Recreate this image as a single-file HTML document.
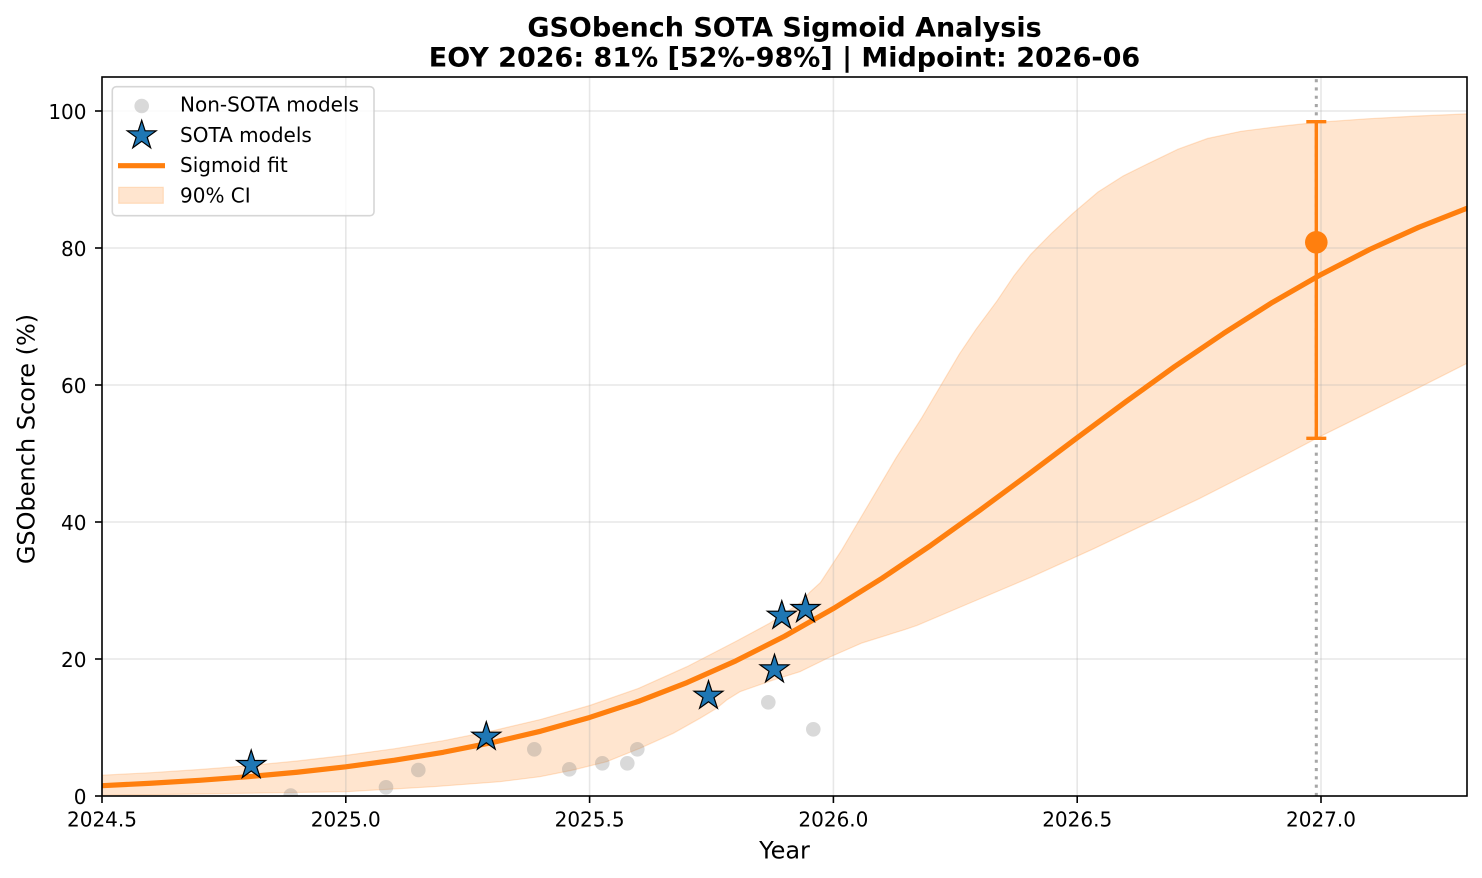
<!DOCTYPE html>
<html>
<head>
<meta charset="utf-8">
<style>
  html, body { margin: 0; padding: 0; background: #ffffff; }
  svg { display: block; }
  text { font-family: "DejaVu Sans", "Liberation Sans", sans-serif; fill: #000; }
</style>
</head>
<body>
<svg width="1482" height="878" viewBox="0 0 1482 878" xmlns="http://www.w3.org/2000/svg">
  <defs>
    <clipPath id="plot">
      <rect x="102" y="77" width="1365" height="719"/>
    </clipPath>
    <polygon id="star" points="0,-15.2 3.413,-4.697 14.456,-4.697 5.522,1.794 8.934,12.297 0,5.806 -8.934,12.297 -5.522,1.794 -14.456,-4.697 -3.413,-4.697" fill="#1f77b4" stroke="#000" stroke-width="1.2" stroke-linejoin="miter"/>
  </defs>

  <rect x="0" y="0" width="1482" height="878" fill="#ffffff"/>

  <!-- Title -->
  <text x="784.5" y="36.7" text-anchor="middle" font-size="27" font-weight="bold">GSObench SOTA Sigmoid Analysis</text>
  <text x="784.5" y="66.7" text-anchor="middle" font-size="27" font-weight="bold">EOY 2026: 81% [52%-98%] | Midpoint: 2026-06</text>

  <g clip-path="url(#plot)">
    <!-- CI band -->
    <path d="M102,775.2 L150.8,772.7 199.5,769.5 248.3,765.7 297,761 345.8,755.4 394.6,748.7 443.3,740.7 492.1,730.9 540.8,719.4 589.6,705.5 638.4,688.4 687.1,666.6 735.9,641.4 770,623 785,613 800,603 810,592 820.4,582.6 841.4,550.5 858.2,522 875.1,493.4 896.1,457.8 921.3,418.5 942.4,382.8 959.2,354.3 976,329.3 997.1,300.8 1013.9,275.8 1030.7,254.4 1051.8,233 1072.8,213.4 1098,192 1123.3,175.9 1148.5,163.4 1178,149.2 1207.4,138.5 1241.1,131.3 1283.1,126 1316.8,122.4 1367.3,118.8 1417.8,116 1467.3,113.9 L1467.3,363.2 1417.8,388.2 1367.3,413.2 1316.8,438.2 1283.1,456 1241.1,477.4 1199,498.8 1148.5,522.7 1093.8,548.7 1030.7,577.3 967.6,604 917.1,625.4 904.5,629.7 862,643 830,657 800,671.7 773.3,680 746.7,689.3 740,691.7 726.7,700 716.7,708.3 700,718.3 673.3,733.3 640,748.3 606.7,761.7 573.3,770 540,776.7 500,781.7 433.3,786.7 346.7,791.7 200,794 102,795.3 Z"
      fill="#ff7f0e" fill-opacity="0.2" stroke="#ff7f0e" stroke-opacity="0.2" stroke-width="1.2"/>

    <!-- Grid -->
    <g stroke="#b0b0b0" stroke-opacity="0.3" stroke-width="1.6">
      <line x1="345.8" y1="77" x2="345.8" y2="796"/>
      <line x1="589.6" y1="77" x2="589.6" y2="796"/>
      <line x1="833.4" y1="77" x2="833.4" y2="796"/>
      <line x1="1077.2" y1="77" x2="1077.2" y2="796"/>
      <line x1="1321" y1="77" x2="1321" y2="796"/>
      <line x1="102" y1="659" x2="1467" y2="659"/>
      <line x1="102" y1="522" x2="1467" y2="522"/>
      <line x1="102" y1="385" x2="1467" y2="385"/>
      <line x1="102" y1="248" x2="1467" y2="248"/>
      <line x1="102" y1="111" x2="1467" y2="111"/>
    </g>

    <!-- Non-SOTA models -->
    <g fill="#808080" fill-opacity="0.3">
      <circle cx="290.7" cy="795.5" r="7.3"/>
      <circle cx="386" cy="787.3" r="7.3"/>
      <circle cx="418.3" cy="770" r="7.3"/>
      <circle cx="534.3" cy="749.3" r="7.3"/>
      <circle cx="569.3" cy="769.3" r="7.3"/>
      <circle cx="602.3" cy="763.3" r="7.3"/>
      <circle cx="627.3" cy="763.3" r="7.3"/>
      <circle cx="637.3" cy="749.3" r="7.3"/>
      <circle cx="768.3" cy="702.3" r="7.3"/>
      <circle cx="813.3" cy="729.3" r="7.3"/>
    </g>

    <!-- Sigmoid fit -->
    <path d="M102,785.68 L150.76,783.28 199.52,780.31 248.28,776.67 297.04,772.24 345.8,766.81 394.56,760.23 443.32,752.26 492.08,742.61 540.84,731.16 589.6,717.46 638.36,701.4 687.12,682.56 735.88,660.85 784.64,636.19 833.4,608.52 882.16,578.17 930.92,545.29 979.68,510.35 1028.44,474.39 1077.2,437.75 1125.96,401.65 1174.72,366.51 1223.48,333.49 1272.24,302.46 1321,274.51 1369.76,249.44 1418.52,227.38 1467.28,208.13"
      fill="none" stroke="#ff7f0e" stroke-width="5.2" stroke-linejoin="round"/>

    <!-- EOY dotted line -->
    <line x1="1316.3" y1="796" x2="1316.3" y2="77" stroke="#808080" stroke-opacity="0.7" stroke-width="3" stroke-dasharray="3.1 5.2"/>

    <!-- Error bar -->
    <g stroke="#ff7f0e" stroke-width="3.4">
      <line x1="1316.3" y1="121.7" x2="1316.3" y2="438.3"/>
      <line x1="1306.3" y1="121.7" x2="1326.3" y2="121.7"/>
      <line x1="1306.3" y1="438.3" x2="1326.3" y2="438.3"/>
    </g>
    <circle cx="1316.3" cy="242.3" r="11.3" fill="#ff7f0e"/>

    <!-- SOTA stars -->
    <use href="#star" x="251.2" y="765.2"/>
    <use href="#star" x="486.3" y="736.9"/>
    <use href="#star" x="708.5" y="695.9"/>
    <use href="#star" x="774.5" y="669.5"/>
    <use href="#star" x="781.8" y="615.9"/>
    <use href="#star" x="805.5" y="609.2"/>
  </g>

  <!-- Spines -->
  <rect x="102" y="77" width="1365" height="719" fill="none" stroke="#000" stroke-width="1.6"/>

  <!-- X ticks -->
  <g stroke="#000" stroke-width="1.6">
    <line x1="102" y1="796" x2="102" y2="803"/>
    <line x1="345.8" y1="796" x2="345.8" y2="803"/>
    <line x1="589.6" y1="796" x2="589.6" y2="803"/>
    <line x1="833.4" y1="796" x2="833.4" y2="803"/>
    <line x1="1077.2" y1="796" x2="1077.2" y2="803"/>
    <line x1="1321" y1="796" x2="1321" y2="803"/>
    <line x1="95" y1="796" x2="102" y2="796"/>
    <line x1="95" y1="659" x2="102" y2="659"/>
    <line x1="95" y1="522" x2="102" y2="522"/>
    <line x1="95" y1="385" x2="102" y2="385"/>
    <line x1="95" y1="248" x2="102" y2="248"/>
    <line x1="95" y1="111" x2="102" y2="111"/>
  </g>
  <g font-size="20" text-anchor="middle">
    <text x="102" y="826.7">2024.5</text>
    <text x="345.8" y="826.7">2025.0</text>
    <text x="589.6" y="826.7">2025.5</text>
    <text x="833.4" y="826.7">2026.0</text>
    <text x="1077.2" y="826.7">2026.5</text>
    <text x="1321" y="826.7">2027.0</text>
  </g>
  <g font-size="20" text-anchor="end">
    <text x="86.5" y="804">0</text>
    <text x="86.5" y="667">20</text>
    <text x="86.5" y="530">40</text>
    <text x="86.5" y="393">60</text>
    <text x="86.5" y="256">80</text>
    <text x="86.5" y="119">100</text>
  </g>

  <!-- Axis labels -->
  <text x="784.5" y="858.3" text-anchor="middle" font-size="24">Year</text>
  <text transform="translate(34.5,439) rotate(-90)" text-anchor="middle" font-size="24">GSObench Score (%)</text>

  <!-- Legend -->
  <rect x="112.3" y="86.7" width="261.7" height="129" rx="4" ry="4" fill="#ffffff" fill-opacity="0.8" stroke="#cccccc" stroke-opacity="0.8" stroke-width="1.6"/>
  <circle cx="141.7" cy="106" r="7.3" fill="#808080" fill-opacity="0.3"/>
  <use href="#star" x="141.7" y="135.5"/>
  <line x1="118" y1="165.7" x2="165" y2="165.7" stroke="#ff7f0e" stroke-width="5.2"/>
  <rect x="118.7" y="187.3" width="44.6" height="16" fill="#ff7f0e" fill-opacity="0.2" stroke="#ff7f0e" stroke-opacity="0.2" stroke-width="1.2"/>
  <g font-size="20">
    <text x="180" y="111.7">Non-SOTA models</text>
    <text x="180" y="141.9">SOTA models</text>
    <text x="180" y="172.1">Sigmoid fit</text>
    <text x="180" y="202.7">90% CI</text>
  </g>
</svg>
</body>
</html>
